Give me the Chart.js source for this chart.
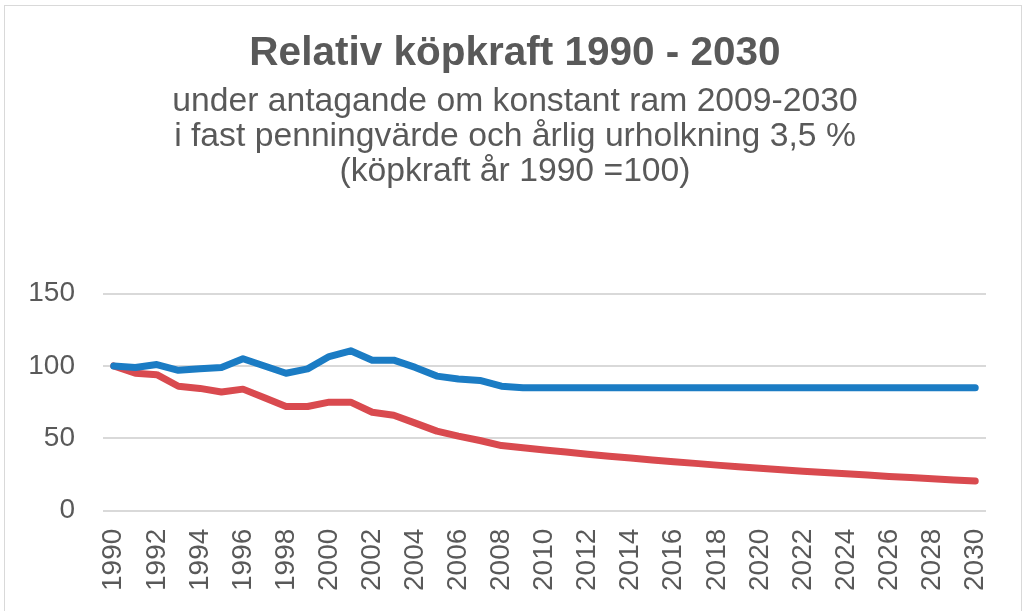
<!DOCTYPE html>
<html>
<head>
<meta charset="utf-8">
<script src="https://cdn.jsdelivr.net/npm/chart.js@4"></script>
<style>
  html, body { margin: 0; padding: 0; background: #fff; }
  #wrap { position: relative; width: 1026px; height: 611px; overflow: hidden; }
  #frame { position: absolute; left: 4px; top: 5px; width: 1016px; height: 640px; border: 1px solid #d9d9d9; }
  canvas { position: absolute; left: 0; top: 0; }
</style>
</head>
<body>
<div id="wrap">
  <div id="frame"></div>
  <canvas id="myChart" width="1026" height="611"></canvas>
</div>
<script>
const years = [];
for (let y = 1990; y <= 2030; y++) years.push(String(y));

// nominell ram (blå) och köpkraft med urholkning (röd), 1990 = 100
const ramValues = [100, 99, 101, 97, 98, 99, 105, 100, 95, 98, 106.5, 110.5, 104, 104, 99, 93, 91, 90, 86, 85,
  85, 85, 85, 85, 85, 85, 85, 85, 85, 85, 85, 85, 85, 85, 85, 85, 85, 85, 85, 85, 85];
const kopkraftValues = [100, 95, 94, 86, 84.5, 82, 84, 78, 72, 72, 75, 75, 68, 66, 60.5, 55, 51.5, 48.5, 45, 43.5,
  42, 40.5, 39, 37.7, 36.4, 35.1, 33.9, 32.7, 31.5, 30.4, 29.4, 28.3, 27.3, 26.4, 25.5, 24.6, 23.7, 22.9, 22.1, 21.3, 20.5];
const yTicks = [0, 50, 100, 150];

const grey = '#595959';
const fontFamily = '"Liberation Sans", Arial, sans-serif';

new Chart(document.getElementById('myChart').getContext('2d'), {
  type: 'line',
  data: {
    labels: years,
    datasets: [{
      label: 'Ram',
      data: ramValues,
      borderColor: '#1b7cc4',
      borderWidth: 7,
      pointRadius: 0,
      tension: 0,
      borderCapStyle: 'round',
      borderJoinStyle: 'round'
    }, {
      label: 'Köpkraft',
      data: kopkraftValues,
      borderColor: '#d94a4f',
      borderWidth: 7,
      pointRadius: 0,
      tension: 0,
      borderCapStyle: 'round',
      borderJoinStyle: 'round'
    }]
  },
  options: {
    responsive: false,
    animation: false,
    // symmetric-ish so the titles centre at ~515 like the original
    layout: { padding: { left: 20, right: 16, top: 0, bottom: 10 } },
    plugins: {
      legend: { display: false },
      tooltip: { enabled: false },
      title: {
        display: true,
        text: 'Relativ köpkraft 1990 - 2030',
        color: grey,
        font: { family: fontFamily, size: 40.5, weight: 'bold' },
        padding: { top: 30, bottom: 6 }
      },
      subtitle: {
        display: true,
        text: ['under antagande om konstant ram 2009-2030',
               'i fast penningvärde och årlig urholkning 3,5 %',
               '(köpkraft år 1990 =100)'],
        color: grey,
        font: { family: fontFamily, size: 33.7, lineHeight: '35px' },
        padding: { top: 0, bottom: 104 }
      }
    },
    scales: {
      x: {
        offset: true,
        afterFit: (axis) => { axis.paddingRight = 40; },
        grid: { display: false },
        border: { display: false },
        ticks: {
          color: grey,
          font: { family: fontFamily, size: 28 },
          autoSkip: false,
          minRotation: 90,
          maxRotation: 90,
          padding: 10,
          callback: (v, i) => (i % 2 === 0 ? years[i] : '')
        }
      },
      y: {
        min: 0,
        max: 150,
        afterBuildTicks: (axis) => { axis.ticks = yTicks.map((v) => ({ value: v })); },
        afterFit: (axis) => { axis.width = 83; },
        grid: { color: '#d9d9d9', lineWidth: 2, drawTicks: false },
        border: { display: false },
        ticks: {
          color: grey,
          font: { family: fontFamily, size: 28 },
          padding: 28
        }
      }
    }
  }
});
</script>
</body>
</html>
